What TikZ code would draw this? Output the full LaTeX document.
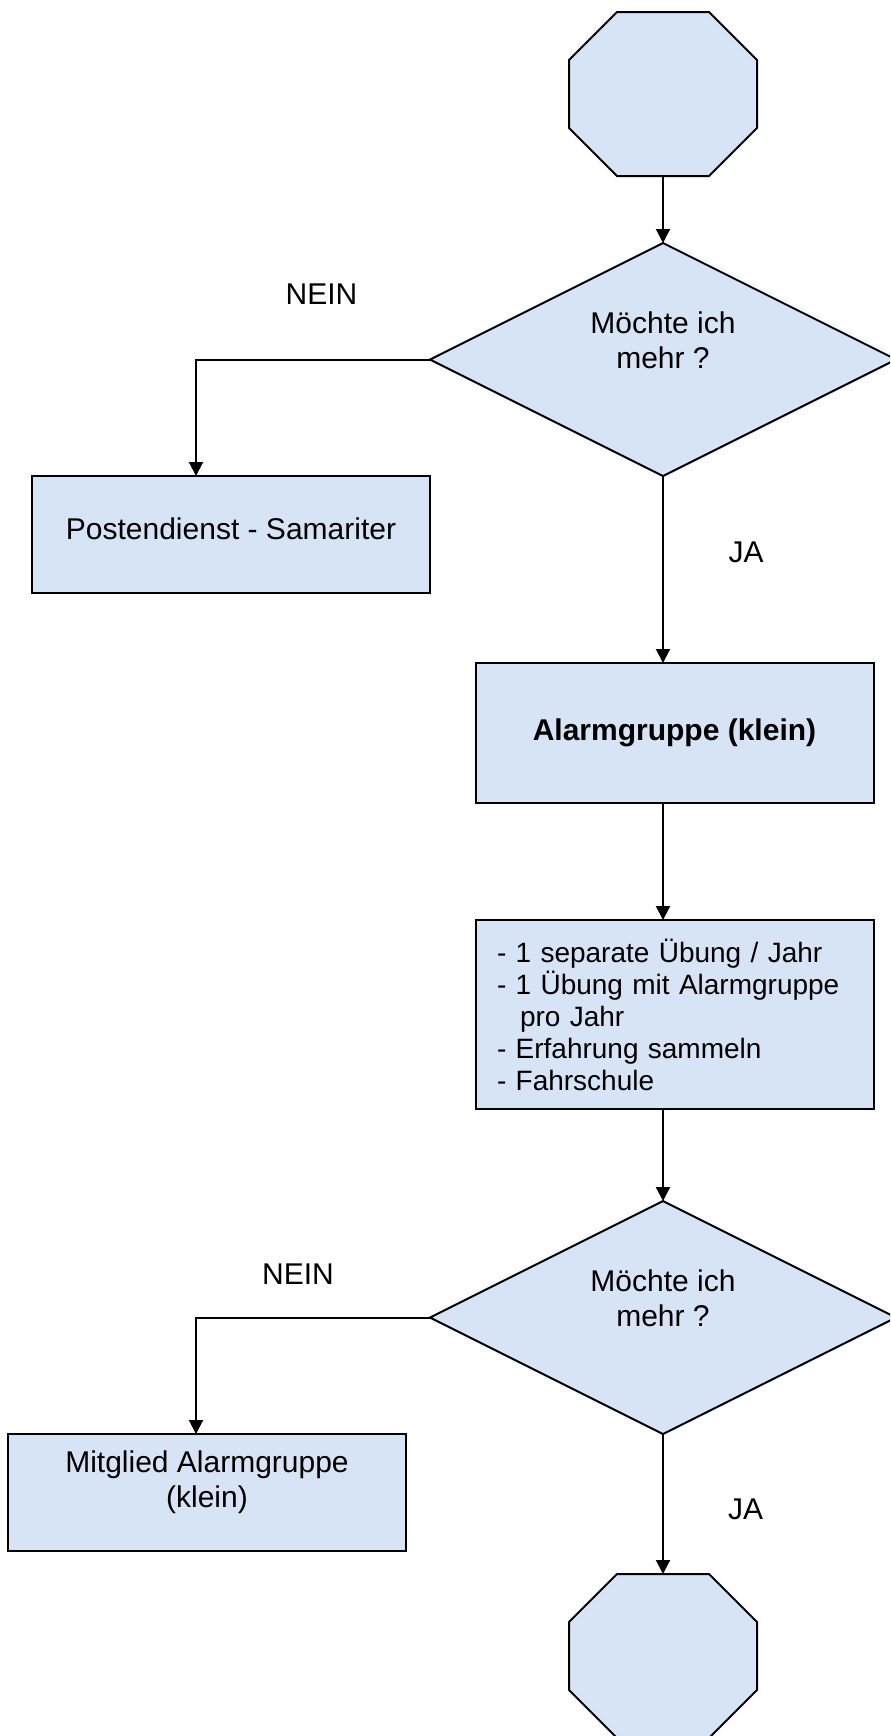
\documentclass[tikz,border=0pt]{standalone}
\usepackage{fontspec}
\setmainfont{Liberation Sans}
\usepackage{tikz}
\usetikzlibrary{arrows.meta}
\usetikzlibrary{shapes.geometric}
\definecolor{flowfill}{RGB}{214,228,246}
\newcommand{\flowfont}{\fontsize{15pt}{17.5pt}\selectfont}
\newcommand{\listfont}{\fontsize{14pt}{16pt}\selectfont}
\newcommand{\chamfer}{24pt}
\tikzstyle{flowshape}=[draw, fill=flowfill, line width=1pt, inner sep=0, outer sep=0, font=\flowfont]
\tikzstyle{flowbox}=[flowshape, rectangle, minimum width=199pt, minimum height=58.5pt, align=center]
\tikzstyle{question}=[flowshape, diamond, aspect=2, minimum width=233pt, minimum height=116.5pt, align=center, text depth=19pt]
% Invisible frame, the octagon itself is drawn by \octagon.
\tikzstyle{terminal}=[rectangle, inner sep=0, outer sep=0, minimum width=94pt, minimum height=82pt]
\tikzstyle{flowarrow}=[line width=1pt, -{Triangle[length=7pt, width=7pt]}]
\tikzstyle{flowchart}=[x=0.5pt, y=-0.5pt, every node/.style={font=\flowfont}]
\newcommand{\octagon}[1]{%
  \filldraw[line width=1pt, fill=flowfill]
    ([xshift=\chamfer]#1.north west) -- ([xshift=-\chamfer]#1.north east)
    -- ([yshift=-\chamfer]#1.north east) -- ([yshift=\chamfer]#1.south east)
    -- ([xshift=-\chamfer]#1.south east) -- ([xshift=\chamfer]#1.south west)
    -- ([yshift=\chamfer]#1.south west) -- ([yshift=-\chamfer]#1.north west) -- cycle;}

\begin{document}
\begin{tikzpicture}[flowchart]
    \clip (0, 0) rectangle (890, 1736);
    \node[terminal] (start) at (663, 94) {};
    \octagon{start}
    \node[question] (ask1) at (663, 359.5) {Möchte ich\\mehr ?};
    \node[flowbox, text depth=6pt] (post) at (231, 534.5) {Postendienst - Samariter};
    \node[flowbox, minimum height=70pt, font=\flowfont\bfseries] (alarm) at (674.5, 733) {Alarmgruppe (klein)};
    \node[flowbox, minimum height=94.5pt, align=left, text width=178pt, inner xsep=10.5pt, font=\listfont] (list) at (675, 1014.5)
        {- 1 separate Übung / Jahr\\- 1 Übung mit Alarmgruppe\\\hspace*{11.5pt}pro Jahr\\- Erfahrung sammeln\\- Fahrschule};
    \node[question] (ask2) at (663, 1317.5) {Möchte ich\\mehr ?};
    \node[flowbox, text depth=13pt] (member) at (207, 1492.5) {Mitglied Alarmgruppe\\(klein)};
    \node[terminal] (stop) at (663, 1656) {};
    \octagon{stop}

    \node (no1) at (321.5, 294) {NEIN};
    \node (yes1) at (746, 552.5) {JA};
    \node (no2) at (298, 1274) {NEIN};
    \node (yes2) at (745.5, 1509) {JA};

    \draw[flowarrow] (start.south) -- (ask1.north);
    \draw[flowarrow] (ask1.west) -| ([xshift=-17.5pt]post.north);
    \draw[flowarrow] (ask1.south) -- (ask1.south |- alarm.north);
    \draw[flowarrow] (alarm.south -| ask1.south) -- (ask1.south |- list.north);
    \draw[flowarrow] (list.south -| ask2.north) -- (ask2.north);
    \draw[flowarrow] (ask2.west) -| ([xshift=-5.5pt]member.north);
    \draw[flowarrow] (ask2.south) -- (stop.north);
\end{tikzpicture}
\end{document}
